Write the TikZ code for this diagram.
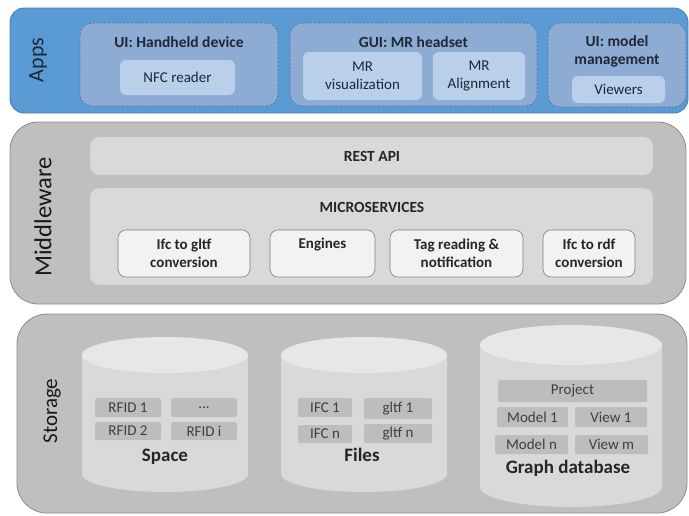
\documentclass[tikz,border=0pt]{standalone}
\usepackage{fontspec}
\setmainfont{Carlito}

% palette
\definecolor{appsfill}{HTML}{5B9BD5}
\definecolor{appsline}{HTML}{4A7DB0}
\definecolor{groupfill}{HTML}{8EABD3}
\definecolor{groupline}{HTML}{4F74A3}
\definecolor{itemblue}{HTML}{B9CFEA}
\definecolor{inkblue}{HTML}{1E2836}
\definecolor{panelgray}{HTML}{BFBFBF}
\definecolor{panelline}{HTML}{8C8C8C}
\definecolor{bargray}{HTML}{D9D9D9}
\definecolor{servfill}{HTML}{F2F2F2}
\definecolor{servline}{HTML}{7F7F7F}
\definecolor{drumbody}{HTML}{D9D9D9}
\definecolor{drumtop}{HTML}{E7E7E7}
\definecolor{slotgray}{HTML}{BDBDBD}
\definecolor{inkgray}{HTML}{262626}
\definecolor{softink}{HTML}{3F3F3F}

\begin{document}
\begin{tikzpicture}[x=1pt,y=-1pt,
  txt/.style={font=\fontsize{15}{18}\selectfont, align=center, text=inkgray, inner sep=0pt},
  bold/.style={txt, font=\fontsize{15.5}{18}\selectfont\bfseries},
  layername/.style={rotate=90, inner sep=0pt, font=\fontsize{22}{24}\selectfont},
  appspanel/.style={draw=appsline, line width=0.8pt, fill=appsfill, rounded corners=14pt},
  groupbox/.style={draw=groupline, dashed, dash pattern=on 2.2pt off 1.6pt, line width=0.6pt, fill=groupfill, rounded corners=12pt},
  appitem/.style={txt, text=inkblue, fill=itemblue, rounded corners=6pt},
  graypanel/.style={draw=panelline, line width=0.8pt, fill=panelgray, rounded corners=28pt},
  barbox/.style={fill=bargray, draw=bargray!90!black, line width=0.3pt, rounded corners=9pt},
  servbox/.style={txt, font=\fontsize{15}{18}\selectfont\bfseries, fill=servfill, draw=servline, line width=0.6pt, rounded corners=8pt},
  slot/.style={txt, text=softink, fill=slotgray, rounded corners=1.5pt},
  drumlabel/.style={txt, font=\fontsize{19}{22}\selectfont\bfseries, text=inkgray}
]
\useasboundingbox (0,0) rectangle (689,515);

% ---------------- Apps layer ----------------
\node[appspanel, minimum width=678pt, minimum height=105pt] (apps) at (349,60.5) {};
\node[layername, text=inkblue] (appsname) at (38,60) {Apps};

\node[groupbox, minimum width=198pt, minimum height=83pt] (handheld) at (179,64.5) {};
\node[bold, text=inkblue] (handheldtitle) at (179,42) {UI: Handheld device};
\node[appitem, minimum width=115pt, minimum height=35pt] (nfc) at (177.5,77.5) {NFC reader};

\node[groupbox, minimum width=247pt, minimum height=83pt] (headset) at (413.5,64.5) {};
\node[bold, text=inkblue] (headsettitle) at (413.5,42) {GUI: MR headset};
\node[appitem, minimum width=119pt, minimum height=48pt] (mrvis) at (362.5,76) {MR\\visualization};
\node[appitem, minimum width=92pt, minimum height=48pt] (mralign) at (479,76) {MR\\Alignment};

\node[groupbox, minimum width=138pt, minimum height=84pt] (modelmgmt) at (617,65) {};
\node[bold, text=inkblue] (modelmgmttitle) at (617,51) {UI: model\\management};
\node[appitem, minimum width=93pt, minimum height=27pt] (viewers) at (618.5,89.5) {Viewers};

% ---------------- Middleware layer ----------------
\node[graypanel, minimum width=676pt, minimum height=182pt] (middleware) at (348,213) {};
\node[layername, font=\fontsize{24.5}{26}\selectfont, text=black!90] (middlewarename) at (43,217) {Middleware};

\node[barbox, minimum width=563pt, minimum height=38pt] (rest) at (371.5,156) {};
\node[bold] (resttitle) at (372,156) {REST API};

\node[barbox, minimum width=563pt, minimum height=97pt] (micro) at (371.5,236.5) {};
\node[bold] (microtitle) at (372,207) {MICROSERVICES};

\node[servbox, minimum width=132pt, minimum height=47pt] (ifcgltf) at (184,253.5) {Ifc to gltf\\conversion};
\node[servbox, minimum width=105pt, minimum height=47pt] (engines) at (322.5,253.5) {Engines\\[-2pt]\strut};
\node[servbox, minimum width=133pt, minimum height=47pt] (tagread) at (456.5,253.5) {Tag reading \&\\notification};
\node[servbox, minimum width=92pt, minimum height=47pt] (ifcrdf) at (589,253.5) {Ifc to rdf\\conversion};

% ---------------- Storage layer ----------------
\node[graypanel, rounded corners=30pt, minimum width=670pt, minimum height=199pt] (storage) at (352,413.5) {};
\node[layername, font=\fontsize{21}{24}\selectfont, text=black!90] (storagename) at (52,411) {Storage};

% drums: body with rounded bottom, lighter lid
\fill[drumbody] (82,355) -- (82,474) arc[start angle=180, end angle=360, x radius=83pt, y radius=18pt] -- (248,355) -- cycle;
\fill[drumtop] (165,355) ellipse [x radius=83pt, y radius=18pt];
\fill[drumbody] (281,355) -- (281,474) arc[start angle=180, end angle=360, x radius=83pt, y radius=18pt] -- (447,355) -- cycle;
\fill[drumtop] (364,355) ellipse [x radius=83pt, y radius=18pt];
\fill[drumbody] (480,345) -- (480,487) arc[start angle=180, end angle=360, x radius=91pt, y radius=20pt] -- (662,345) -- cycle;
\fill[drumtop] (571,345) ellipse [x radius=91pt, y radius=20pt];

% Space
\node[slot, minimum width=66pt, minimum height=19pt] (rfid1) at (128,407.5) {RFID 1};
\node[slot, minimum width=66pt, minimum height=19pt] (rfiddots) at (204,407.5) {...};
\node[slot, minimum width=66pt, minimum height=18pt] (rfid2) at (128,431) {RFID 2};
\node[slot, minimum width=66pt, minimum height=18pt] (rfidi) at (204,431) {RFID i};
\node[drumlabel] (space) at (165,457) {Space};

% Files
\node[slot, minimum width=54pt, minimum height=19pt] (ifc1) at (325,407.5) {IFC 1};
\node[slot, minimum width=68pt, minimum height=21pt] (gltf1) at (398,408.5) {gltf 1};
\node[slot, minimum width=54pt, minimum height=18pt] (ifcn) at (325,434) {IFC n};
\node[slot, minimum width=68pt, minimum height=19pt] (gltfn) at (398,433.5) {gltf n};
\node[drumlabel] (files) at (362,455) {Files};

% Graph database
\node[slot, minimum width=149pt, minimum height=22pt] (project) at (572.5,391) {Project};
\node[slot, minimum width=71pt, minimum height=20pt] (model1) at (532.5,417) {Model 1};
\node[slot, minimum width=72pt, minimum height=20pt] (view1) at (611,417) {View 1};
\node[slot, minimum width=73pt, minimum height=19pt] (modeln) at (531.5,444.5) {Model n};
\node[slot, minimum width=73pt, minimum height=19pt] (viewm) at (611.5,444.5) {View m};
\node[drumlabel] (graphdb) at (568,468) {Graph database};
\end{tikzpicture}
\end{document}
